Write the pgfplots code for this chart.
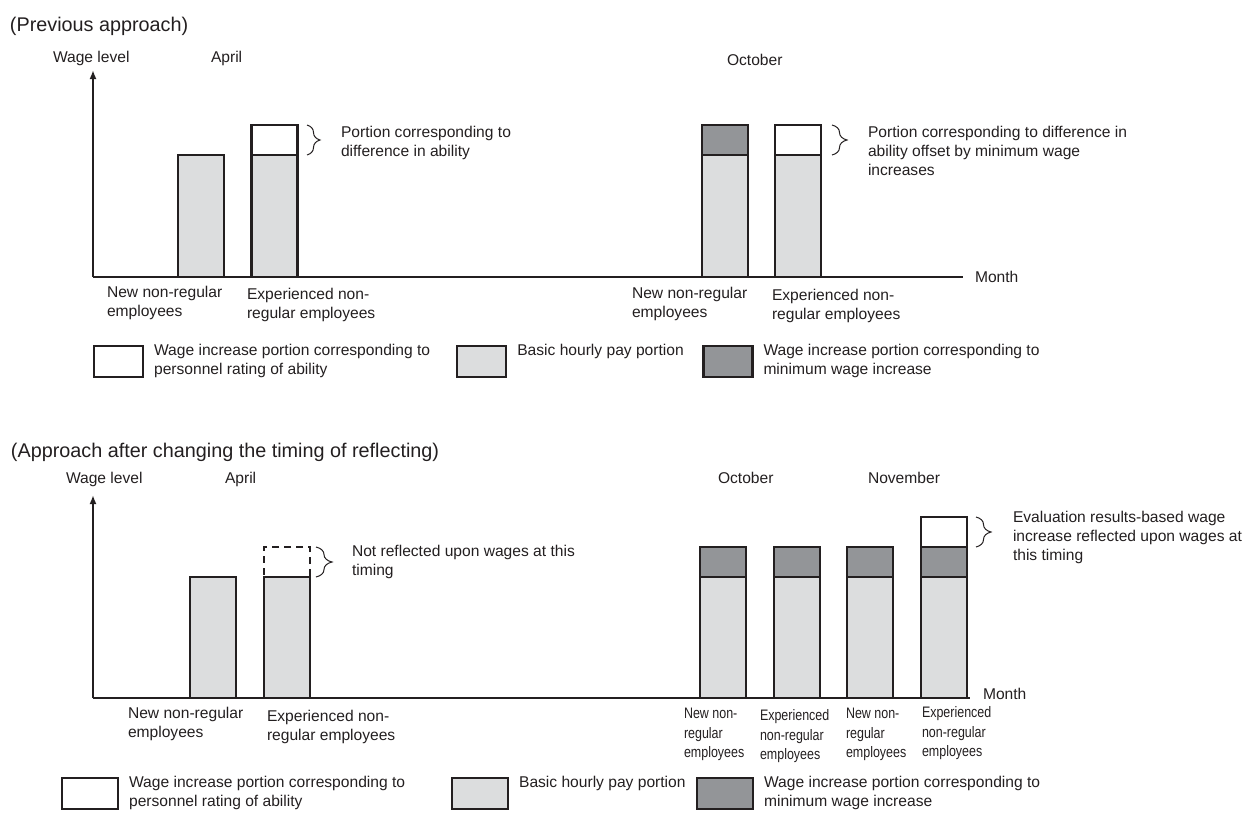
\documentclass[border=0pt]{standalone}
\usepackage{pgfplots}
\pgfplotsset{compat=1.18}
\usepackage{fontspec}
\setmainfont{Liberation Sans}
\newfontfamily\narrowfont[FakeStretch=0.82]{Liberation Sans}
\usetikzlibrary{arrows.meta,decorations.pathreplacing}
\definecolor{ink}{HTML}{231F20}
\definecolor{lightbar}{HTML}{DCDDDE}
\definecolor{darkbar}{HTML}{939598}
\newcommand\lab{\fontsize{15.6pt}{19pt}\selectfont}
\newcommand\ttl{\fontsize{19.8pt}{24pt}\selectfont}
\newcommand\sm{\narrowfont\fontsize{15.2pt}{19.5pt}\selectfont}
\tikzset{
  t/.style={anchor=base west, inner sep=0pt, outer sep=0pt, text=ink, font=\lab},
  s/.style={anchor=base west, inner sep=0pt, outer sep=0pt, text=ink, font=\sm},
  br/.style={ink, line width=1pt, decorate, decoration={brace, amplitude=#1}},
}
\pgfplotsset{
  panel/.style={scale only axis, anchor=south west, ymin=0, axis lines=left,
    axis line style={line width=2pt, ink},
    x axis line style={-},
    y axis line style={-{Latex[length=9pt,width=7pt]}},
    ticks=none, clip=false,
    legend columns=3,
    legend image code/.code={\draw[##1, line width=2.2pt] (0pt,-21pt) rectangle (49pt,10pt);},
    legend style={draw=none, fill=none, inner sep=0pt, outer sep=0pt, anchor=north west,
      cells={anchor=base west},
      nodes={inner sep=0pt, outer sep=0pt, text depth=, font=\lab, text=ink},
      /tikz/every odd column/.append style={column sep=10pt}},
  },
  bar/.style={ybar, bar width=46pt, bar shift=0pt, draw=ink, line width=2.4pt, forget plot},
}
\begin{document}
\begin{tikzpicture}
% ---------------- top panel ----------------
\begin{axis}[panel, at={(93pt,-277pt)}, width=870pt, height=207pt,
  xmin=93, xmax=963, ymax=207,
  legend style={at={(axis cs:92.9,-67.6)}}]
\addplot[bar, fill=white] coordinates {(274.5,152) (798,152)};
\addplot[bar, fill=darkbar] coordinates {(725,152)};
\addplot[bar, fill=lightbar] coordinates {(201,122) (274.5,122) (725,122) (798,122)};
\addlegendimage{draw=ink, fill=white}
\addlegendentry{\parbox[t]{302pt}{Wage increase portion corresponding to\\personnel rating of ability}}
\addlegendimage{draw=ink, fill=lightbar}
\addlegendentry{\parbox[t]{185pt}{Basic hourly pay portion}}
\addlegendimage{draw=ink, fill=darkbar}
\addlegendentry{\parbox[t]{300pt}{Wage increase portion corresponding to\\minimum wage increase}}
\node[t, font=\ttl] at (axis cs:10,246) {(Previous approach)};
\node[t] at (axis cs:53,215) {Wage level};
\node[t] at (axis cs:211,215) {April};
\node[t] at (axis cs:727,212) {October};
\node[t] at (axis cs:975,-5) {Month};
\node[t] at (axis cs:107,-20) {New non-regular};
\node[t] at (axis cs:107,-39) {employees};
\node[t] at (axis cs:247,-22) {Experienced non-};
\node[t] at (axis cs:247,-41) {regular employees};
\node[t] at (axis cs:632,-21) {New non-regular};
\node[t] at (axis cs:632,-40) {employees};
\node[t] at (axis cs:772,-23) {Experienced non-};
\node[t] at (axis cs:772,-42) {regular employees};
\draw[br=13pt] (axis cs:307,152) -- (axis cs:307,122);
\node[t] at (axis cs:341,140) {Portion corresponding to};
\node[t] at (axis cs:341,121) {difference in ability};
\draw[br=15pt] (axis cs:832,152) -- (axis cs:832,122);
\node[t] at (axis cs:868,140) {Portion corresponding to difference in};
\node[t] at (axis cs:868,121) {ability offset by minimum wage};
\node[t] at (axis cs:868,102) {increases};
\end{axis}
% ---------------- bottom panel ----------------
\begin{axis}[panel, at={(93pt,-698pt)}, width=877pt, height=203pt,
  xmin=93, xmax=970, ymax=203,
  legend image code/.code={\draw[#1, line width=2.2pt] (0pt,-21pt) rectangle (56pt,10pt);},
  legend style={at={(axis cs:60.9,-78.6)}}]
\addplot[bar, fill=white] coordinates {(944,181)};
\addplot[bar, fill=white, dash pattern=on 7pt off 5pt] coordinates {(287,151)};
\addplot[bar, fill=darkbar] coordinates {(723,151) (797,151) (870,151) (944,151)};
\addplot[bar, fill=lightbar] coordinates {(213,121) (287,121) (723,121) (797,121) (870,121) (944,121)};
\addlegendimage{draw=ink, fill=white}
\addlegendentry{\parbox[t]{321.8pt}{Wage increase portion corresponding to\\personnel rating of ability}}
\addlegendimage{draw=ink, fill=lightbar}
\addlegendentry{\parbox[t]{176.8pt}{Basic hourly pay portion}}
\addlegendimage{draw=ink, fill=darkbar}
\addlegendentry{\parbox[t]{300pt}{Wage increase portion corresponding to\\minimum wage increase}}
\node[t, font=\ttl] at (axis cs:11,241) {(Approach after changing the timing of reflecting)};
\node[t] at (axis cs:66,215) {Wage level};
\node[t] at (axis cs:225,215) {April};
\node[t] at (axis cs:718,215) {October};
\node[t] at (axis cs:868,215) {November};
\node[t] at (axis cs:983,-1) {Month};
\node[t] at (axis cs:128,-20) {New non-regular};
\node[t] at (axis cs:128,-39) {employees};
\node[t] at (axis cs:267,-23) {Experienced non-};
\node[t] at (axis cs:267,-42) {regular employees};
\node[s] at (axis cs:684,-20) {New non-};
\node[s] at (axis cs:684,-40) {regular};
\node[s] at (axis cs:684,-59) {employees};
\node[s] at (axis cs:760,-22) {Experienced};
\node[s] at (axis cs:760,-42) {non-regular};
\node[s] at (axis cs:760,-61) {employees};
\node[s] at (axis cs:846,-20) {New non-};
\node[s] at (axis cs:846,-40) {regular};
\node[s] at (axis cs:846,-59) {employees};
\node[s] at (axis cs:922,-19) {Experienced};
\node[s] at (axis cs:922,-39) {non-regular};
\node[s] at (axis cs:922,-58) {employees};
\draw[br=16pt] (axis cs:316,151) -- (axis cs:316,121);
\node[t] at (axis cs:352,142) {Not reflected upon wages at this};
\node[t] at (axis cs:352,123) {timing};
\draw[br=15pt] (axis cs:976,181) -- (axis cs:976,151);
\node[t] at (axis cs:1013,176) {Evaluation results-based wage};
\node[t] at (axis cs:1013,157) {increase reflected upon wages at};
\node[t] at (axis cs:1013,138) {this timing};
\end{axis}
\pgfresetboundingbox
\path[use as bounding box] (0pt,0pt) rectangle (1247pt,-812pt);
\end{tikzpicture}
\end{document}
